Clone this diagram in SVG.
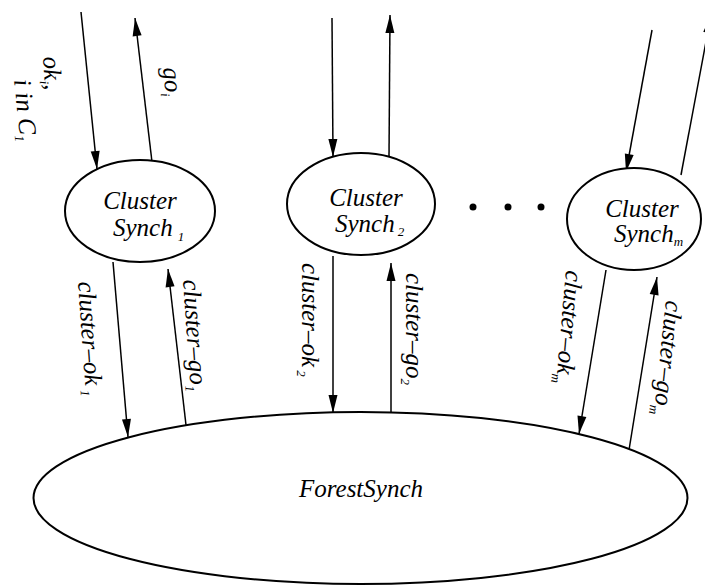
<svg xmlns="http://www.w3.org/2000/svg" width="705" height="586" viewBox="0 0 705 586">
  <style>
    .node { fill: #ffffff; stroke: #000000; stroke-width: 2; }
    .edge { fill: none; stroke: #000000; stroke-width: 1.5; marker-end: url(#arrow); }
    .dot { fill: #000000; }
  </style>
  <defs>
    <marker id="arrow" markerUnits="userSpaceOnUse" markerWidth="18" markerHeight="10" refX="18" refY="5" orient="auto" overflow="visible">
      <path d="M0,0.5 L18,5 L0,9.5 z" fill="#000000"/>
    </marker>
  </defs>

  <!-- connectors -->
  <g id="connectors">
    <!-- cluster 1 -->
    <line class="edge" x1="81" y1="12" x2="97" y2="169"/>
    <line class="edge" x1="152" y1="162" x2="135" y2="18"/>
    <line class="edge" x1="113" y1="262" x2="128" y2="437"/>
    <line class="edge" x1="186" y1="425" x2="168" y2="269"/>
    <!-- cluster 2 -->
    <line class="edge" x1="332" y1="18" x2="333" y2="157"/>
    <line class="edge" x1="389" y1="157" x2="390" y2="15"/>
    <line class="edge" x1="333" y1="256" x2="333" y2="413"/>
    <line class="edge" x1="391" y1="412" x2="391" y2="263"/>
    <!-- cluster m -->
    <line class="edge" x1="652" y1="30" x2="626" y2="172"/>
    <line class="edge" x1="681" y1="175" x2="711" y2="15"/>
    <line class="edge" x1="606" y1="270" x2="579" y2="434"/>
    <line class="edge" x1="629" y1="450" x2="657" y2="277"/>
  </g>

  <!-- connector labels -->
  <g id="edge-labels">
    <text style="font-family:'Liberation Serif',serif;font-style:italic;font-size:25px" transform="translate(43,57) rotate(86)">ok<tspan style="font-size:13px" dy="5">i</tspan><tspan dy="-5">,</tspan></text>
    <text style="font-family:'Liberation Serif',serif;font-style:italic;font-size:25px" transform="translate(14,80) rotate(84)">i in C<tspan style="font-size:13px" dy="5">1</tspan></text>
    <text style="font-family:'Liberation Serif',serif;font-style:italic;font-size:25px" transform="translate(163,68) rotate(84)">go<tspan style="font-size:13px" dy="5">i</tspan></text>
    <text style="font-family:'Liberation Serif',serif;font-style:italic;font-size:25px" transform="translate(78,282) rotate(86)">cluster–ok<tspan style="font-size:13px" dy="5" dx="4">1</tspan></text>
    <text style="font-family:'Liberation Serif',serif;font-style:italic;font-size:25px" transform="translate(183,280) rotate(86)">cluster–go<tspan style="font-size:13px" dy="5">1</tspan></text>
    <text style="font-family:'Liberation Serif',serif;font-style:italic;font-size:25px" transform="translate(302,263) rotate(90)">cluster–ok<tspan style="font-size:13px" dy="5" dx="3">2</tspan></text>
    <text style="font-family:'Liberation Serif',serif;font-style:italic;font-size:25px" transform="translate(406,273) rotate(90)">cluster–go<tspan style="font-size:13px" dy="5">2</tspan></text>
    <text style="font-family:'Liberation Serif',serif;font-style:italic;font-size:25px" transform="translate(566,270) rotate(95)">cluster–ok<tspan style="font-size:13px" dy="5">m</tspan></text>
    <text style="font-family:'Liberation Serif',serif;font-style:italic;font-size:25px" transform="translate(666,300) rotate(96)">cluster–go<tspan style="font-size:13px" dy="5">m</tspan></text>
  </g>

  <!-- cluster synchronizers -->
  <g id="cluster-synch-1">
    <ellipse class="node" cx="140" cy="211" rx="75" ry="51"/>
    <text style="font-family:'Liberation Serif',serif;font-style:italic;font-size:25px" x="140" y="209" text-anchor="middle">Cluster</text>
    <text style="font-family:'Liberation Serif',serif;font-style:italic;font-size:25px" x="113" y="236">Synch<tspan style="font-size:13px" dx="5" dy="5">1</tspan></text>
  </g>
  <g id="cluster-synch-2">
    <ellipse class="node" cx="361" cy="204" rx="74" ry="51"/>
    <text style="font-family:'Liberation Serif',serif;font-style:italic;font-size:25px" x="366" y="206" text-anchor="middle">Cluster</text>
    <text style="font-family:'Liberation Serif',serif;font-style:italic;font-size:25px" x="335" y="232">Synch<tspan style="font-size:13px" dx="3" dy="4">2</tspan></text>
  </g>
  <g id="ellipsis">
    <circle class="dot" cx="473" cy="207" r="3.5"/>
    <circle class="dot" cx="508" cy="207" r="3.5"/>
    <circle class="dot" cx="541" cy="207" r="3.5"/>
  </g>
  <g id="cluster-synch-m">
    <ellipse class="node" cx="634" cy="219" rx="67" ry="51"/>
    <text style="font-family:'Liberation Serif',serif;font-style:italic;font-size:25px" x="642" y="217" text-anchor="middle">Cluster</text>
    <text style="font-family:'Liberation Serif',serif;font-style:italic;font-size:25px" x="614" y="242">Synch<tspan style="font-size:13px" dy="4">m</tspan></text>
  </g>

  <!-- forest-level synchronizer -->
  <g id="forest-synch">
    <ellipse class="node" cx="360.5" cy="498" rx="327" ry="86"/>
    <text style="font-family:'Liberation Serif',serif;font-style:italic;font-size:25px" x="361" y="497" text-anchor="middle">ForestSynch</text>
  </g>
</svg>
